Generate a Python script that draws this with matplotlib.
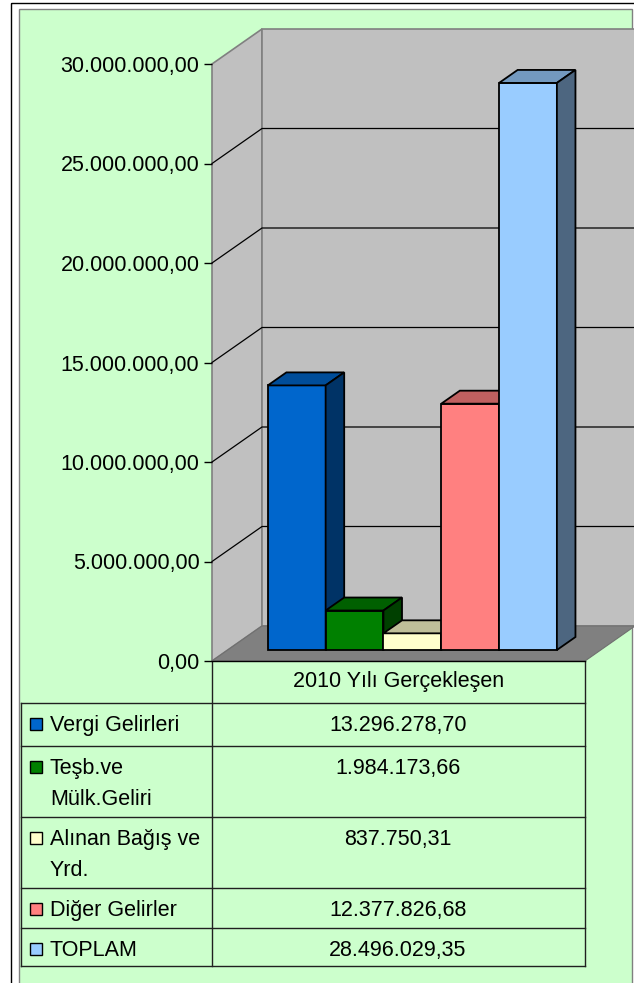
import matplotlib
matplotlib.use("Agg")
import matplotlib.pyplot as plt
from matplotlib.patches import Polygon, Rectangle
import numpy as np

plt.rcParams["font.family"] = ["Liberation Sans", "DejaVu Sans"]

# data
series_names = ["Vergi Gelirleri", "Teşb.ve\nMülk.Geliri", "Alınan Bağış ve\nYrd.",
                "Diğer Gelirler", "TOPLAM"]
values = [13296278.70, 1984173.66, 837750.31, 12377826.68, 28496029.35]
colors = ["#0066CC", "#008000", "#FFFFCC", "#FF8080", "#99CCFF"]
category = "2010 Yılı Gerçekleşen"
y_ticks = [0, 5e6, 10e6, 15e6, 20e6, 25e6, 30e6]


def tr_fmt(v):
    s = f"{v:,.2f}"
    return s.replace(",", "X").replace(".", ",").replace("X", ".")


def shade(c, k):
    r, g, b = matplotlib.colors.to_rgb(c)
    return (r * k, g * k, b * k)


W, H = 634, 983
FS = 15.5
fig = plt.figure(figsize=(W / 100, H / 100), dpi=100)
fig.patch.set_facecolor("white")

# background axes in pixel coords
bg = fig.add_axes([0, 0, 1, 1])
bg.set_xlim(0, W)
bg.set_ylim(H, 0)
bg.axis("off")
bg.add_patch(Rectangle((10.5, 2.5), 640, 1000, fill=False, edgecolor="black", lw=1))
bg.add_patch(Rectangle((18.5, 8.5), 613.5, 1000, facecolor="#CCFFCC", edgecolor="#808080", lw=1))

# chart axes = front plane of the 3d box
left, right, top, bottom = 212, 585, 64, 661
ax = fig.add_axes([left / W, 1 - bottom / H, (right - left) / W, (bottom - top) / H])
ax.set_zorder(2)
ax.set_xlim(0, 1)
ax.set_ylim(0, 30e6)
ax.patch.set_visible(False)
for s in ax.spines.values():
    s.set_visible(False)
ax.set_xticks([])
ax.set_yticks(y_ticks)
ax.set_yticklabels([tr_fmt(v) for v in y_ticks], fontsize=FS)
ax.tick_params(axis="y", length=6, width=1, color="black", pad=3)

# depth offset in data units
px_x = 1.0 / (right - left)
px_y = 30e6 / (bottom - top)
DX, DY = 50 * px_x, 35 * px_y
ymax = 30e6

wall = "#C0C0C0"
ax.add_patch(Polygon([(0, 0), (0, ymax), (DX, ymax + DY), (DX, DY)], closed=True,
                     facecolor=wall, edgecolor="#808080", lw=1.2, clip_on=False, zorder=1))
ax.add_patch(Polygon([(DX, DY), (1 + DX, DY), (1 + DX, ymax + DY), (DX, ymax + DY)], closed=True,
                     facecolor=wall, edgecolor="#808080", lw=1.2, clip_on=False, zorder=1))
for v in y_ticks[1:-1]:
    ax.plot([0, DX, 1 + DX], [v, v + DY, v + DY], color="black", lw=0.9, clip_on=False, zorder=1.5)
ax.add_patch(Polygon([(0, 0), (1, 0), (1 + DX, DY), (DX, DY)], closed=True,
                     facecolor="#808080", edgecolor="#707070", lw=0.8, clip_on=False, zorder=1.6))
ax.plot([0, 1], [0, 0], color="black", lw=1, clip_on=False, zorder=1.7)

# bars
w = 0.155
f0, f1 = 11 / 35, 24 / 35
x_left = 0.495 - 2.5 * w + np.arange(len(values)) * w + f0 * DX
base = f0 * DY
ddx, ddy = (f1 - f0) * DX, (f1 - f0) * DY
bars = ax.bar(x_left, values, width=w, bottom=base, align="edge", color=colors,
              edgecolor="black", linewidth=1.3, clip_on=False)
for i, (b, v, c) in enumerate(zip(bars, values, colors)):
    z = 3 + i
    b.set_zorder(z)
    xl, xr, yt = x_left[i], x_left[i] + w, base + v
    ax.add_patch(Polygon([(xl, yt), (xr, yt), (xr + ddx, yt + ddy), (xl + ddx, yt + ddy)], closed=True,
                         facecolor=shade(c, 0.75), edgecolor="black", lw=1.3, clip_on=False, zorder=z))
    ax.add_patch(Polygon([(xr, base), (xr, yt), (xr + ddx, yt + ddy), (xr + ddx, base + ddy)], closed=True,
                         facecolor=shade(c, 0.5), edgecolor="black", lw=1.3, clip_on=False, zorder=z))

# data table
rows = [703, 746, 817, 888, 928, 966]
tl, tm, tr = 21, 212, 585
lc = "#202020"
bg.plot([tm, tm], [bottom, rows[-1]], color=lc, lw=1)
bg.plot([tr, tr], [bottom, rows[-1]], color=lc, lw=1)
bg.plot([tl, tl], [rows[0], rows[-1]], color=lc, lw=1)
for r in rows:
    bg.plot([tl, tr], [r, r], color=lc, lw=1)
bg.text((tm + tr) / 2, 687, category, ha="center", va="baseline", fontsize=FS)
for i, (name, v, c) in enumerate(zip(series_names, values, colors)):
    top_r = rows[i]
    for k, line in enumerate(name.split("\n")):
        bg.text(50, top_r + 28 + k * 31, line, ha="left", va="baseline", fontsize=FS)
    bg.add_patch(Rectangle((30, top_r + 15), 12, 12, facecolor=c, edgecolor="black", lw=1))
    bg.text(398, top_r + 28, tr_fmt(v), ha="center", va="baseline", fontsize=FS)

fig.savefig("out.png", dpi=100)
